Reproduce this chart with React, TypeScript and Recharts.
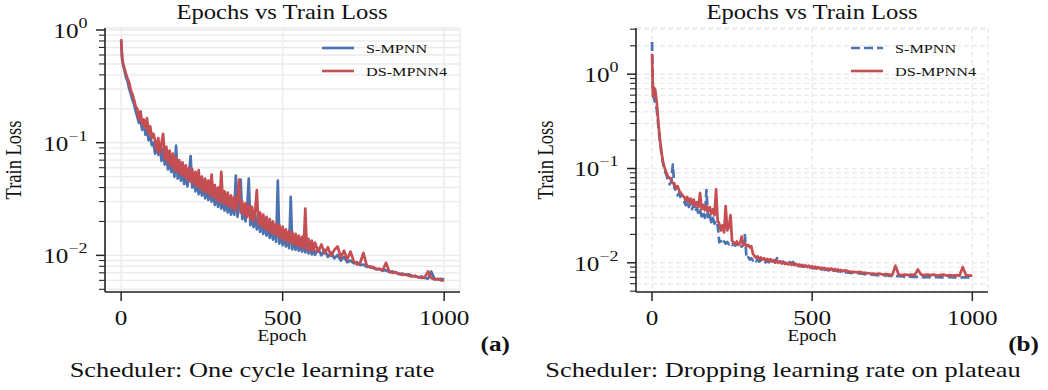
import React from "react";
import { LineChart, Line, XAxis, YAxis, CartesianGrid, Legend } from "recharts";

// epochs sampled from the curves (every 5 epochs in the noisy part, then every 10)
const EPOCHS = [
  0, 3, 6, 10, 15, 20, 25, 30, 35, 40, 45, 50, 55, 60, 65, 70, 75, 80, 85, 90, 95, 100,
  105, 110, 115, 120, 125, 130, 135, 140, 145, 150, 155, 160, 165, 170, 175, 180, 185, 190, 195, 200,
  205, 210, 215, 220, 225, 230, 235, 240, 245, 250, 255, 260, 265, 270, 275, 280, 285, 290, 295, 300,
  305, 310, 315, 320, 325, 330, 335, 340, 345, 350, 355, 360, 365, 370, 375, 380, 385, 390, 395, 400,
  405, 410, 415, 420, 425, 430, 435, 440, 445, 450, 455, 460, 465, 470, 475, 480, 485, 490, 495, 500,
  505, 510, 515, 520, 525, 530, 535, 540, 545, 550, 555, 560, 565, 570, 575, 580, 585, 590, 595, 600,
  610, 620, 630, 640, 650, 660, 670, 680, 690, 700,
  710, 720, 730, 740, 750, 760, 770, 780, 790, 800,
  810, 820, 830, 840, 850, 860, 870, 880, 890, 900,
  910, 920, 930, 940, 950, 960, 970, 980, 990, 1000,
];

// (a) one cycle learning rate
const A_SMPNN = [
  0.8, 0.55, 0.49, 0.44, 0.38, 0.35, 0.3, 0.27, 0.24, 0.22, 0.19, 0.17, 0.15, 0.16, 0.13, 0.16, 0.118, 0.13, 0.105, 0.115, 0.095, 0.1,
  0.08, 0.1, 0.078, 0.094, 0.069, 0.088, 0.064, 0.08, 0.058, 0.072, 0.055, 0.068, 0.05, 0.094, 0.048, 0.062, 0.046, 0.058, 0.043, 0.055,
  0.041, 0.052, 0.076, 0.04, 0.049, 0.037, 0.048, 0.035, 0.045, 0.034, 0.043, 0.032, 0.042, 0.031, 0.04, 0.03, 0.038, 0.028, 0.036, 0.027,
  0.035, 0.026, 0.033, 0.025, 0.032, 0.024, 0.031, 0.023, 0.03, 0.023, 0.051, 0.022, 0.028, 0.047, 0.021, 0.027, 0.02, 0.026, 0.048, 0.0185,
  0.024, 0.0178, 0.023, 0.017, 0.022, 0.0162, 0.021, 0.0155, 0.02, 0.015, 0.0195, 0.0143, 0.0185, 0.0138, 0.0178, 0.0132, 0.046, 0.0127, 0.0165, 0.0123,
  0.0158, 0.012, 0.0152, 0.0116, 0.033, 0.0113, 0.0145, 0.0112, 0.014, 0.011, 0.0136, 0.0108, 0.0132, 0.0106, 0.0128, 0.0104, 0.0124, 0.0102, 0.012, 0.0101,
  0.0115, 0.01, 0.0112, 0.0097, 0.0106, 0.0094, 0.0101, 0.009, 0.0097, 0.0087,
  0.009, 0.0085, 0.0087, 0.0082, 0.0083, 0.0079, 0.008, 0.0077, 0.0076, 0.0075,
  0.0073, 0.0074, 0.0071, 0.0072, 0.007, 0.0068, 0.0069, 0.0067, 0.0068, 0.0066,
  0.0065, 0.0064, 0.0065, 0.0063, 0.0062, 0.0072, 0.0062, 0.0061, 0.0062, 0.0061,
];
const A_DSMPNN4 = [
  0.83, 0.57, 0.51, 0.46, 0.41, 0.37, 0.34, 0.29, 0.27, 0.24, 0.21, 0.2, 0.16, 0.19, 0.145, 0.16, 0.135, 0.165, 0.12, 0.14, 0.11, 0.12,
  0.105, 0.085, 0.11, 0.08, 0.1, 0.12, 0.072, 0.092, 0.066, 0.085, 0.062, 0.08, 0.057, 0.074, 0.055, 0.07, 0.052, 0.067, 0.05, 0.063,
  0.047, 0.06, 0.045, 0.058, 0.043, 0.055, 0.041, 0.057, 0.039, 0.05, 0.037, 0.048, 0.036, 0.046, 0.034, 0.052, 0.033, 0.042, 0.031, 0.04,
  0.03, 0.055, 0.029, 0.037, 0.028, 0.036, 0.027, 0.034, 0.026, 0.033, 0.025, 0.032, 0.047, 0.024, 0.03, 0.023, 0.029, 0.022, 0.028, 0.021,
  0.027, 0.02, 0.025, 0.038, 0.019, 0.024, 0.018, 0.023, 0.0172, 0.022, 0.0165, 0.021, 0.016, 0.02, 0.0153, 0.019, 0.0148, 0.0185, 0.0142, 0.018,
  0.0137, 0.017, 0.0133, 0.0165, 0.0129, 0.016, 0.0125, 0.0155, 0.0122, 0.015, 0.0119, 0.0146, 0.0116, 0.026, 0.0113, 0.014, 0.0111, 0.0135, 0.0109, 0.013,
  0.0108, 0.0125, 0.0104, 0.0118, 0.0099, 0.0112, 0.012, 0.0096, 0.011, 0.0092,
  0.0108, 0.0089, 0.0083, 0.0086, 0.0105, 0.0082, 0.0078, 0.0079, 0.0075, 0.0076,
  0.0074, 0.0086, 0.0072, 0.007, 0.0071, 0.0069, 0.0067, 0.0068, 0.0066, 0.0065,
  0.0066, 0.0064, 0.0063, 0.0064, 0.0072, 0.0063, 0.0061, 0.0062, 0.006, 0.006,
];

// (b) dropping learning rate on plateau
const B_SMPNN = [
  2.2, 0.62, 0.55, 0.5, 0.42, 0.28, 0.19, 0.14, 0.11, 0.095, 0.085, 0.075, 0.068, 0.072, 0.11, 0.062, 0.058, 0.052, 0.055, 0.049, 0.047, 0.045,
  0.041, 0.046, 0.039, 0.043, 0.037, 0.041, 0.035, 0.038, 0.033, 0.036, 0.031, 0.035, 0.03, 0.059, 0.029, 0.032, 0.027, 0.03, 0.026, 0.028,
  0.025, 0.0165, 0.017, 0.0158, 0.0168, 0.016, 0.0166, 0.0157, 0.0163, 0.0155, 0.016, 0.0152, 0.0158, 0.015, 0.0156, 0.0148, 0.0155, 0.0197, 0.0112, 0.0115,
  0.0108, 0.0112, 0.0106, 0.011, 0.0104, 0.0108, 0.0103, 0.0107, 0.0102, 0.0106, 0.0101, 0.0105, 0.0101, 0.0106, 0.0101, 0.0104, 0.01, 0.0112, 0.0101, 0.0104,
  0.01, 0.0103, 0.0099, 0.0103, 0.0099, 0.0102, 0.0098, 0.0102, 0.0098, 0.0101, 0.0094, 0.0092, 0.0093, 0.0091, 0.0092, 0.009, 0.0091, 0.0089, 0.009, 0.0088,
  0.0089, 0.0087, 0.0088, 0.0086, 0.0087, 0.0085, 0.0086, 0.0084, 0.0085, 0.0083, 0.0084, 0.0083, 0.0084, 0.0082, 0.0083, 0.0081, 0.0082, 0.008, 0.0081, 0.0079,
  0.0079, 0.0078, 0.0078, 0.0077, 0.0077, 0.0076, 0.0076, 0.0075, 0.0075, 0.0074,
  0.0074, 0.0073, 0.0074, 0.0073, 0.0072, 0.0073, 0.0072, 0.0072, 0.0071, 0.0072,
  0.0071, 0.0071, 0.0071, 0.0071, 0.007, 0.0071, 0.007, 0.007, 0.0071, 0.007,
  0.007, 0.007, 0.0071, 0.007, 0.007, 0.007, 0.007, 0.007, 0.007, 0.007,
];
const B_DSMPNN4 = [
  1.65, 0.58, 0.72, 0.68, 0.5, 0.3, 0.2, 0.145, 0.115, 0.1, 0.09, 0.082, 0.08, 0.075, 0.07, 0.068, 0.062, 0.065, 0.058, 0.055, 0.052, 0.05,
  0.046, 0.05, 0.044, 0.048, 0.042, 0.047, 0.04, 0.044, 0.039, 0.055, 0.037, 0.041, 0.036, 0.04, 0.035, 0.039, 0.033, 0.037, 0.032, 0.06,
  0.028, 0.026, 0.022, 0.025, 0.021, 0.04, 0.022, 0.024, 0.032, 0.017, 0.0165, 0.0158, 0.0168, 0.0155, 0.0162, 0.019, 0.0155, 0.016, 0.015, 0.0155,
  0.0146, 0.015, 0.0125, 0.0118, 0.0113, 0.0117, 0.011, 0.0114, 0.0108, 0.0112, 0.0106, 0.011, 0.0105, 0.0109, 0.0103, 0.0107, 0.0101, 0.0105, 0.01, 0.0103,
  0.0098, 0.0102, 0.0097, 0.01, 0.0096, 0.0099, 0.0095, 0.0098, 0.0094, 0.0097, 0.0093, 0.0096, 0.0092, 0.0095, 0.0091, 0.0094, 0.009, 0.0093, 0.0089, 0.0092,
  0.0088, 0.0091, 0.0087, 0.009, 0.0086, 0.0089, 0.0086, 0.0088, 0.0085, 0.0087, 0.0084, 0.0087, 0.0083, 0.0086, 0.0083, 0.0085, 0.0082, 0.0084, 0.0081, 0.0083,
  0.0082, 0.008, 0.008, 0.0079, 0.008, 0.0078, 0.0078, 0.0077, 0.0077, 0.0076,
  0.0077, 0.0075, 0.0076, 0.0075, 0.0074, 0.0093, 0.0075, 0.0074, 0.0075, 0.0074,
  0.0075, 0.0074, 0.0085, 0.0075, 0.0074, 0.0075, 0.0074, 0.0075, 0.0073, 0.0074,
  0.0075, 0.0073, 0.0074, 0.0073, 0.0074, 0.0073, 0.009, 0.0074, 0.0073, 0.0073,
];

const LEGEND_ORDER = ["S-MPNN", "DS-MPNN4"];
const X_TICKS = [0, 500, 1000];
const A_Y_TICKS = [
  0.005, 0.006, 0.007, 0.008, 0.009, 0.01, 0.02, 0.03, 0.04, 0.05, 0.06, 0.07, 0.08, 0.09,
  0.1, 0.2, 0.3, 0.4, 0.5, 0.6, 0.7, 0.8, 0.9, 1,
];
const B_Y_TICKS = [...A_Y_TICKS, 2, 3];

const BLUE = "#4c72b0";
const RED = "#c44e52";
const AXIS = "#262626";
const INK = "#111111";
const GRID = "#ebebeb";
const FONT = '"Liberation Serif", "Times New Roman", "DejaVu Serif", serif';
const SX = 1.2; // the figure is stretched horizontally

const dataA = EPOCHS.map((epoch, i) => ({ epoch, s: A_SMPNN[i], ds: A_DSMPNN4[i] }));
const dataB = EPOCHS.map((epoch, i) => ({ epoch, s: B_SMPNN[i], ds: B_DSMPNN4[i] }));

const isMajor = (v: number) => {
  const l = Math.log10(v);
  return Math.abs(l - Math.round(l)) < 1e-9;
};

// 10^n label, right-aligned a fixed distance left of the axis
const LogTick = (props: any) => {
  const { x, y, payload } = props;
  const v = payload.value as number;
  const major = isMajor(v);
  const exp = Math.round(Math.log10(v));
  const sup = exp === 0 ? "0" : "\u2212" + Math.abs(exp);
  const supW = (exp === 0 ? 0.5 : 1.064) * 15 * SX;
  const xEnd = x - 17.5;
  return (
    <g>
      <line x1={x - (major ? 9 : 6)} x2={x} y1={y} y2={y} stroke={AXIS} strokeWidth={major ? 1.5 : 1.1} />
      {major && (
        <g fontFamily={FONT} fill={INK}>
          <text transform={`translate(${xEnd - supW},${y + 8}) scale(${SX},1)`} textAnchor="end" fontSize={21}>
            10
          </text>
          <text transform={`translate(${xEnd - supW},${y - 2}) scale(${SX},1)`} textAnchor="start" fontSize={15}>
            {sup}
          </text>
        </g>
      )}
    </g>
  );
};

const EpochTick = (props: any) => {
  const { x, y, payload } = props;
  return (
    <text
      transform={`translate(${x},${y + 24}) scale(${SX},1)`}
      textAnchor="middle"
      fontFamily={FONT}
      fontSize={21}
      fill={INK}
    >
      {payload.value}
    </text>
  );
};

const LegendContent = (props: any) => {
  const items = [...(props.payload || [])].sort(
    (a: any, b: any) => LEGEND_ORDER.indexOf(a.value) - LEGEND_ORDER.indexOf(b.value)
  );
  return (
    <svg width={150} height={48} style={{ display: "block" }}>
      {items.map((it: any, i: number) => {
        const cy = 12 + i * 23;
        return (
          <g key={i}>
            <line
              x1={4}
              x2={36}
              y1={cy}
              y2={cy}
              stroke={it.color}
              strokeWidth={2.6}
              strokeDasharray={it.payload?.strokeDasharray}
            />
            <text
              transform={`translate(48,${cy + 5}) scale(${SX},1)`}
              fontFamily={FONT}
              fontSize={13.5}
              fill={INK}
            >
              {it.value}
            </text>
          </g>
        );
      })}
    </svg>
  );
};

type PanelProps = {
  data: { epoch: number; s: number; ds: number }[];
  yTicks: number[];
  yDomain: [number, number];
  yAxisWidth: number;
  width: number;
  dashed: boolean;
  legendLeft: number;
};

const Panel = ({ data, yTicks, yDomain, yAxisWidth, width, dashed, legendLeft }: PanelProps) => (
  <LineChart width={width} height={390} data={data} margin={{ top: 28, right: 60, bottom: 0, left: 0 }}>
    <CartesianGrid stroke={GRID} strokeWidth={1.4} strokeDasharray={dashed ? "5 3" : undefined} />
    <XAxis
      dataKey="epoch"
      type="number"
      domain={[-50, 1049]}
      ticks={X_TICKS}
      allowDataOverflow
      height={98}
      tickSize={9}
      tickMargin={0}
      tick={<EpochTick />}
      tickLine={{ stroke: AXIS, strokeWidth: 1.5 }}
      axisLine={{ stroke: AXIS, strokeWidth: 1.6 }}
    />
    <YAxis
      type="number"
      scale="log"
      domain={yDomain}
      ticks={yTicks}
      allowDataOverflow
      interval={0}
      width={yAxisWidth}
      tickSize={0}
      tickMargin={0}
      tickLine={false}
      tick={<LogTick />}
      axisLine={{ stroke: AXIS, strokeWidth: 1.6 }}
    />
    <XAxis
      xAxisId="top"
      orientation="top"
      type="number"
      domain={[0, 1]}
      height={0}
      tick={false}
      tickLine={false}
      axisLine={{ stroke: AXIS, strokeWidth: 1.6 }}
    />
    <YAxis
      yAxisId="right"
      orientation="right"
      type="number"
      domain={[0, 1]}
      width={0}
      tick={false}
      tickLine={false}
      axisLine={{ stroke: AXIS, strokeWidth: 1.6 }}
    />
    <Legend
      layout="horizontal"
      verticalAlign="middle"
      align="center"
      wrapperStyle={{ top: 36, left: legendLeft, width: 150 }}
      content={<LegendContent />}
    />
    <Line
      type="linear"
      dataKey="s"
      name="S-MPNN"
      stroke={BLUE}
      strokeWidth={2.7}
      strokeDasharray={dashed ? "9 4" : undefined}
      strokeLinejoin="round"
      dot={false}
      activeDot={false}
      isAnimationActive={false}
    />
    <Line
      type="linear"
      dataKey="ds"
      name="DS-MPNN4"
      stroke={RED}
      strokeWidth={2.7}
      strokeLinejoin="round"
      dot={false}
      activeDot={false}
      isAnimationActive={false}
    />
  </LineChart>
);

const T = ({
  x,
  y,
  size,
  children,
  anchor = "middle",
  weight = "normal",
  rotate = 0,
}: {
  x: number;
  y: number;
  size: number;
  children: React.ReactNode;
  anchor?: "start" | "middle" | "end";
  weight?: string;
  rotate?: number;
}) => (
  <text
    transform={`translate(${x},${y}) scale(${SX},1) rotate(${rotate})`}
    textAnchor={anchor}
    fontFamily={FONT}
    fontSize={size}
    fontWeight={weight}
    fill={INK}
  >
    {children}
  </text>
);

export default function App() {
  return (
    <div style={{ position: "absolute", left: 0, top: 0, width: 1048, height: 390, background: "#fff" }}>
      <div style={{ position: "absolute", left: 0, top: 0 }}>
        <Panel
          data={dataA}
          yTicks={A_Y_TICKS}
          yDomain={[0.00473, 1.042]}
          yAxisWidth={105}
          width={520}
          dashed={false}
          legendLeft={318}
        />
      </div>
      <div style={{ position: "absolute", left: 520, top: 0 }}>
        <Panel
          data={dataB}
          yTicks={B_Y_TICKS}
          yDomain={[0.0049, 3.09]}
          yAxisWidth={116}
          width={528}
          dashed={true}
          legendLeft={327}
        />
      </div>
      <svg width={1048} height={390} style={{ position: "absolute", left: 0, top: 0, pointerEvents: "none" }}>
        <T x={282} y={19} size={20.5}>Epochs vs Train Loss</T>
        <T x={812} y={19} size={20.5}>Epochs vs Train Loss</T>
        <T x={282} y={341} size={16}>Epoch</T>
        <T x={812} y={341} size={16}>Epoch</T>
        <T x={21} y={160} size={18.5} rotate={-90}>Train Loss</T>
        <T x={553} y={160} size={18.5} rotate={-90}>Train Loss</T>
        <T x={510} y={351} size={21} anchor="end" weight="bold">(a)</T>
        <T x={1039} y={351} size={21} anchor="end" weight="bold">(b)</T>
        <T x={252} y={377} size={22}>Scheduler: One cycle learning rate</T>
        <T x={783} y={377} size={22}>Scheduler: Dropping learning rate on plateau</T>
      </svg>
    </div>
  );
}
